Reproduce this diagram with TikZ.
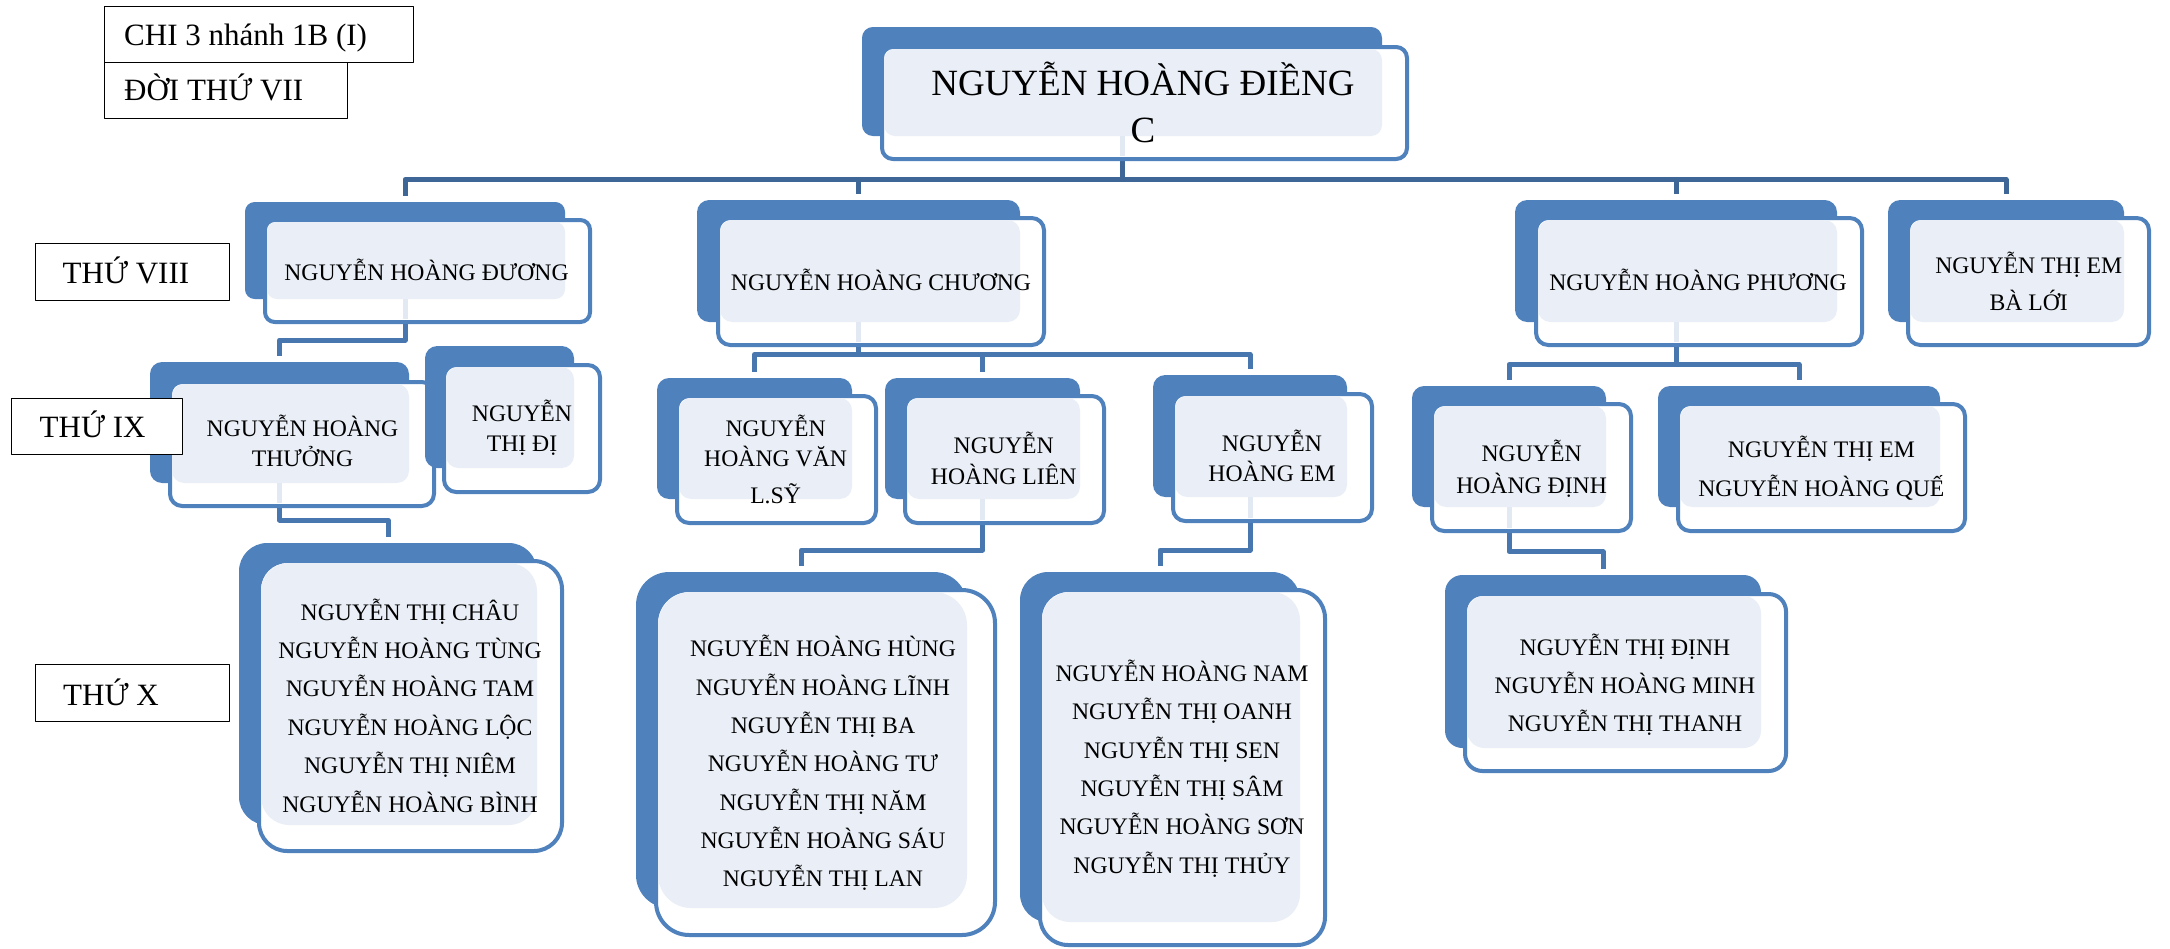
\documentclass[tikz,border=0pt]{standalone}
\usepackage{fontspec}
\setmainfont{Liberation Serif}
\usetikzlibrary{calc}
\definecolor{sbBlue}{HTML}{4F81BD}
\definecolor{sbPale}{HTML}{EAEFF7}
\definecolor{sbDark}{HTML}{3E6797}
\definecolor{sbLine}{HTML}{4876AE}
\definecolor{sbPaleLine}{HTML}{E2E9F3}
\tikzset{
  backbox/.style={fill=sbBlue, draw=none, inner sep=0pt, outer sep=0pt},
  frontbox/.style={fill=white, draw=sbBlue, line width=4pt, inner sep=0pt, outer sep=0pt},
  palebox/.style={fill=sbPale, draw=none, inner sep=0pt, outer sep=0pt},
  conntop/.style={draw=sbDark, line width=5pt, shorten >=6pt},
  connlow/.style={draw=sbLine, line width=5pt, shorten >=6pt},
  connpale/.style={draw=sbPaleLine, line width=5pt, shorten >=3pt},
  nametext/.style={inner sep=0pt, outer sep=0pt, align=center, anchor=base, font=\fontsize{23.7}{30}\selectfont},
  lblbox/.style={draw=black, line width=1.2pt, fill=white, inner sep=0pt, anchor=north west},
  lbltext/.style={inner sep=0pt, anchor=base west, font=\fontsize{31}{36}\selectfont},
}
% name, back x1 y1 x2 y2, front x1 y1 x2 y2
\newcommand{\stk}[9]{%
  \pgfmathsetmacro\stkr{0.1*min(#4-#2,#5-#3)}%
  \node[backbox, rounded corners=\stkr pt, minimum width={(#4-#2)*1pt}, minimum height={(#5-#3)*1pt}] (#1) at ({(#2+#4)/2},{(#3+#5)/2}) {};
  \node[frontbox, rounded corners=\stkr pt, minimum width={(#8-#6-4)*1pt}, minimum height={(#9-#7-4)*1pt}] (#1f) at ({(#6+#8)/2},{(#7+#9)/2}) {};
  \node[palebox, rounded corners=\stkr pt, minimum width={(#4-#6-4)*1pt}, minimum height={(#5-#7-4)*1pt}] (#1p) at ({(#6+4+#4)/2},{(#7+4+#5)/2}) {};
}
\begin{document}
\begin{tikzpicture}[x=1pt, y=-1pt, line join=round]
\useasboundingbox (0,0) rectangle (2170,948);

% bar levels
\coordinate (bar1) at (0,179.5);
\coordinate (bar2) at (0,340);
\coordinate (bar3) at (0,354.5);
\coordinate (bar4) at (0,364.5);
\coordinate (bar5) at (0,520);
\coordinate (bar6) at (0,550);
\coordinate (bar7) at (0,551.7);

% anchor points for connectors (back box centres)
\coordinate (c-root) at (1122,81);
\coordinate (c-duong) at (405,250);
\coordinate (c-chuong) at (858.5,261);
\coordinate (c-phuong) at (1676,261);
\coordinate (c-baloi) at (2006,261);
\coordinate (c-thuong) at (279.5,422);
\coordinate (c-lsy) at (754.5,438);
\coordinate (c-lien) at (982.5,438);
\coordinate (c-em) at (1250,436);
\coordinate (c-dinh) at (1509,446);
\coordinate (c-que) at (1799,446);
\coordinate (c-chau) at (388,684);
\coordinate (c-hung) at (801.5,740);
\coordinate (c-nam) at (1160,747);
\coordinate (c-dinhg) at (1603,661);

% connectors
\draw[conntop] (c-root) -- (c-root |- bar1) -| (c-duong |- 0,202);
\draw[conntop] (c-root) -- (c-root |- bar1) -| (c-chuong |- 0,200);
\draw[conntop] (c-root) -- (c-root |- bar1) -| (c-phuong |- 0,200);
\draw[conntop] (c-root) -- (c-root |- bar1) -| (c-baloi |- 0,200);
\draw[connlow] (c-duong) -- (c-duong |- bar2) -| (c-thuong |- 0,362);
\draw[connlow] (c-chuong) -- (c-chuong |- bar3) -| (c-lsy |- 0,378);
\draw[connlow] (c-chuong) -- (c-chuong |- bar3) -| (c-lien |- 0,378);
\draw[connlow] (c-chuong) -- (c-chuong |- bar3) -| (c-em |- 0,375);
\draw[connlow] (c-phuong) -- (c-phuong |- bar4) -| (c-dinh |- 0,386);
\draw[connlow] (c-phuong) -- (c-phuong |- bar4) -| (c-que |- 0,386);
\draw[connlow] (c-thuong) -- (c-thuong |- bar5) -| (c-chau |- 0,543);
\draw[connlow] (c-lien) -- (c-lien |- bar6) -| (c-hung |- 0,572);
\draw[connlow] (c-em) -- (c-em |- bar6) -| (c-nam |- 0,572);
\draw[connlow] (c-dinh) -- (c-dinh |- bar7) -| (c-dinhg |- 0,575);

% stacked boxes
\stk{root}{862}{27}{1382}{136}{880}{45}{1409}{161}
\stk{duong}{245}{202}{565}{299}{263}{218}{592}{324}
\stk{chuong}{697}{200}{1020}{322}{716}{216}{1046}{347}
\stk{phuong}{1515}{200}{1837}{322}{1534}{216}{1864}{347}
\stk{baloi}{1888}{200}{2124}{322}{1906}{216}{2151}{347}
\stk{thuong}{150}{362}{409}{483}{168}{380}{436}{508}
\stk{di}{425}{346}{574}{468}{442}{363}{602}{494}
\stk{lsy}{657}{378}{852}{499}{675}{394}{878}{525}
\stk{lien}{885}{378}{1080}{499}{903}{394}{1106}{525}
\stk{em}{1153}{375}{1347}{497}{1171}{392}{1374}{523}
\stk{dinh}{1412}{386}{1606}{507}{1430}{402}{1633}{533}
\stk{que}{1658}{386}{1940}{507}{1676}{402}{1967}{533}
\stk{chau}{239}{543}{537}{825}{257}{559}{564}{853}
\stk{hung}{636}{572}{967}{908}{654}{588}{997}{937}
\stk{nam}{1020}{572}{1300}{922}{1038}{588}{1327}{947}
\stk{dinhg}{1445}{575}{1761}{748}{1463}{592}{1788}{773}

% pale connector stubs inside the front boxes
\foreach \n in {root,duong,chuong,phuong,thuong,lien,em,dinh}{
  \draw[connpale] (c-\n |- \n.south) -- (c-\n |- \n f.south);
}

% texts (anchor = baseline of the last line)
\node[nametext, font=\fontsize{37}{47}\selectfont] (roott) at (1143,142) {NGUYỄN HOÀNG ĐIỀNG\\C};
\node[nametext] (duongt) at (426.5,280) {NGUYỄN HOÀNG ĐƯƠNG};
\node[nametext] (chuongt) at (881,290) {NGUYỄN HOÀNG CHƯƠNG};
\node[nametext] (phuongt) at (1698,290) {NGUYỄN HOÀNG PHƯƠNG};
\node[nametext, font=\fontsize{23.7}{37}\selectfont] (baloit) at (2028.7,310) {NGUYỄN THỊ EM\\BÀ LỚI};
\node[nametext] (thuongt) at (302.5,466.7) {NGUYỄN HOÀNG\\THƯỞNG};
\node[nametext] (dit) at (522,451.7) {NGUYỄN\\THỊ ĐỊ};
\node[nametext] (lsyt) at (775.6,503) {NGUYỄN\\HOÀNG VĂN\\[7pt]L.SỸ};
\node[nametext, font=\fontsize{23.7}{31}\selectfont] (lient) at (1003.7,484) {NGUYỄN\\HOÀNG LIÊN};
\node[nametext] (emt) at (1272,481.7) {NGUYỄN\\HOÀNG EM};
\node[nametext, font=\fontsize{23.7}{31.6}\selectfont] (dinht) at (1531.6,493.3) {NGUYỄN\\HOÀNG ĐỊNH};
\node[nametext, font=\fontsize{23.7}{38.7}\selectfont] (quet) at (1821.4,496) {NGUYỄN THỊ EM\\NGUYỄN HOÀNG QUẾ};
\node[nametext, font=\fontsize{23.7}{38.4}\selectfont] (chaut) at (410,812) {NGUYỄN THỊ CHÂU\\NGUYỄN HOÀNG TÙNG\\NGUYỄN HOÀNG TAM\\NGUYỄN HOÀNG LỘC\\NGUYỄN THỊ NIÊM\\NGUYỄN HOÀNG BÌNH};
\node[nametext, font=\fontsize{23.7}{38.3}\selectfont] (hungt) at (823,886.7) {NGUYỄN HOÀNG HÙNG\\NGUYỄN HOÀNG LĨNH\\NGUYỄN THỊ BA\\NGUYỄN HOÀNG TƯ\\NGUYỄN THỊ NĂM\\NGUYỄN HOÀNG SÁU\\NGUYỄN THỊ LAN};
\node[nametext, font=\fontsize{23.7}{38.3}\selectfont] (namt) at (1182,873) {NGUYỄN HOÀNG NAM\\NGUYỄN THỊ OANH\\NGUYỄN THỊ SEN\\NGUYỄN THỊ SÂM\\NGUYỄN HOÀNG SƠN\\NGUYỄN THỊ THỦY};
\node[nametext, font=\fontsize{23.7}{38.3}\selectfont] (dinhgt) at (1625,731.7) {NGUYỄN THỊ ĐỊNH\\NGUYỄN HOÀNG MINH\\NGUYỄN THỊ THANH};

% generation labels
\node[lblbox, minimum width=309pt, minimum height=56pt] (lchi) at (104,6) {};
\node[lbltext] (lchit) at (124,45) {CHI 3 nhánh 1B (I)};
\node[lblbox, minimum width=243pt, minimum height=56pt] (ldoi) at (104,62) {};
\node[lbltext] (ldoit) at (124,100) {ĐỜI THỨ VII};
\node[lblbox, minimum width=194pt, minimum height=57pt] (l8) at (35,243) {};
\node[lbltext] (l8t) at (62.5,283) {THỨ VIII};
\node[lblbox, minimum width=171pt, minimum height=56pt] (l9) at (11,398) {};
\node[lbltext] (l9t) at (39.5,437) {THỨ IX};
\node[lblbox, minimum width=194pt, minimum height=57pt] (l10) at (35,664) {};
\node[lbltext] (l10t) at (63,705) {THỨ X};
\end{tikzpicture}
\end{document}
